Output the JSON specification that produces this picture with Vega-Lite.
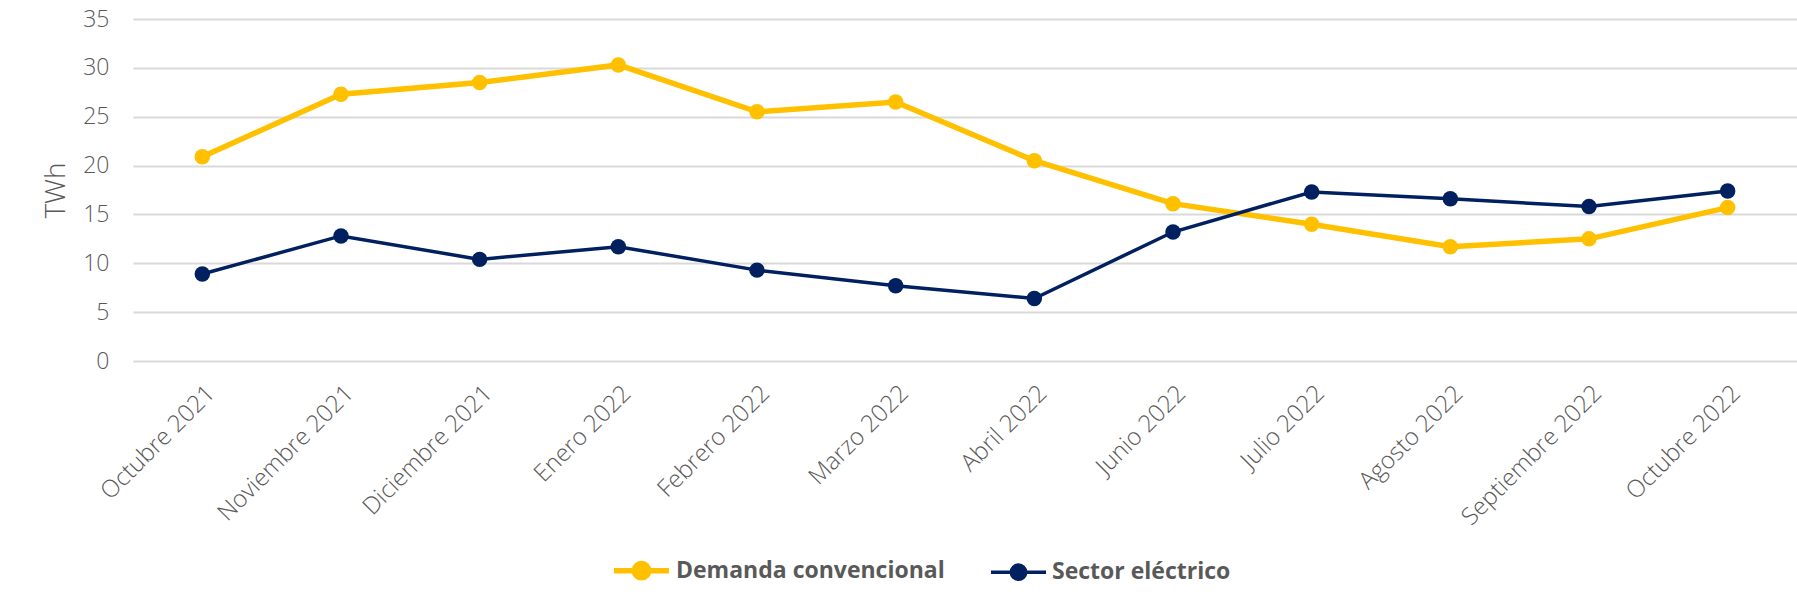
{
  "$schema": "https://vega.github.io/schema/vega-lite/v6.json",
  "autosize": {"type": "none"},
  "width": 1664,
  "height": 342,
  "padding": {"left": 133, "top": 19, "right": 0, "bottom": 246},
  "background": "white",
  "config": {
    "view": {"stroke": null},
    "font": "Open Sans",
    "axis": {"labelFont": "Open Sans", "titleFont": "Open Sans"}
  },
  "data": {
    "values": [
      {"mes": "Octubre 2021", "serie": "Demanda convencional", "twh": 20.9},
      {"mes": "Noviembre 2021", "serie": "Demanda convencional", "twh": 27.3},
      {"mes": "Diciembre 2021", "serie": "Demanda convencional", "twh": 28.5},
      {"mes": "Enero 2022", "serie": "Demanda convencional", "twh": 30.3},
      {"mes": "Febrero 2022", "serie": "Demanda convencional", "twh": 25.5},
      {"mes": "Marzo 2022", "serie": "Demanda convencional", "twh": 26.5},
      {"mes": "Abril 2022", "serie": "Demanda convencional", "twh": 20.5},
      {"mes": "Junio 2022", "serie": "Demanda convencional", "twh": 16.1},
      {"mes": "Julio 2022", "serie": "Demanda convencional", "twh": 14.0},
      {"mes": "Agosto 2022", "serie": "Demanda convencional", "twh": 11.7},
      {"mes": "Septiembre 2022", "serie": "Demanda convencional", "twh": 12.5},
      {"mes": "Octubre 2022", "serie": "Demanda convencional", "twh": 15.7},
      {"mes": "Octubre 2021", "serie": "Sector eléctrico", "twh": 8.9},
      {"mes": "Noviembre 2021", "serie": "Sector eléctrico", "twh": 12.8},
      {"mes": "Diciembre 2021", "serie": "Sector eléctrico", "twh": 10.4},
      {"mes": "Enero 2022", "serie": "Sector eléctrico", "twh": 11.7},
      {"mes": "Febrero 2022", "serie": "Sector eléctrico", "twh": 9.3},
      {"mes": "Marzo 2022", "serie": "Sector eléctrico", "twh": 7.7},
      {"mes": "Abril 2022", "serie": "Sector eléctrico", "twh": 6.4},
      {"mes": "Junio 2022", "serie": "Sector eléctrico", "twh": 13.2},
      {"mes": "Julio 2022", "serie": "Sector eléctrico", "twh": 17.3},
      {"mes": "Agosto 2022", "serie": "Sector eléctrico", "twh": 16.6},
      {"mes": "Septiembre 2022", "serie": "Sector eléctrico", "twh": 15.8},
      {"mes": "Octubre 2022", "serie": "Sector eléctrico", "twh": 17.4}
    ]
  },
  "encoding": {
    "x": {
      "field": "mes", "type": "ordinal", "sort": null,
      "scale": {"type": "point", "padding": 0.5},
      "axis": {
        "title": null, "domain": false, "ticks": false, "grid": false,
        "labelAngle": -45, "labelAlign": "right", "labelBaseline": "top",
        "labelPadding": 20, "labelFontSize": 24, "labelFontWeight": 300,
        "labelColor": "#595959", "labelLimit": 400
      }
    },
    "y": {
      "field": "twh", "type": "quantitative",
      "scale": {"domain": [0, 35], "nice": false},
      "axis": {
        "title": "TWh", "values": [0, 5, 10, 15, 20, 25, 30, 35],
        "domain": false, "ticks": false,
        "gridColor": "#d9d9d9", "gridWidth": 2,
        "labelPadding": 24, "labelFontSize": 23, "labelFontWeight": 300,
        "labelColor": "#595959",
        "titleFontSize": 28, "titleFontWeight": 300, "titleColor": "#595959",
        "titlePadding": 12
      }
    },
    "color": {
      "field": "serie", "type": "nominal",
      "scale": {"domain": ["Demanda convencional", "Sector eléctrico"], "range": ["#FFC000", "#002060"]},
      "legend": {
        "orient": "none", "direction": "horizontal", "title": null,
        "legendX": 478, "legendY": 521,
        "symbolType": "M-1,0L1,0M0.26,0A0.26,0.26,0,1,1,-0.26,0A0.26,0.26,0,1,1,0.26,0Z",
        "symbolSize": 3025, "symbolStrokeWidth": 4,
        "labelFontSize": 23, "labelFontWeight": "bold", "labelColor": "#595959",
        "labelOffset": 4, "columnPadding": 39, "labelLimit": 500
      }
    }
  },
  "layer": [
    {
      "mark": {"type": "line"},
      "encoding": {
        "strokeWidth": {
          "field": "serie", "type": "nominal",
          "scale": {"domain": ["Demanda convencional", "Sector eléctrico"], "range": [5.5, 3.5]},
          "legend": null
        }
      }
    },
    {
      "mark": {"type": "point", "filled": true, "opacity": 1, "size": 240}
    }
  ]
}
